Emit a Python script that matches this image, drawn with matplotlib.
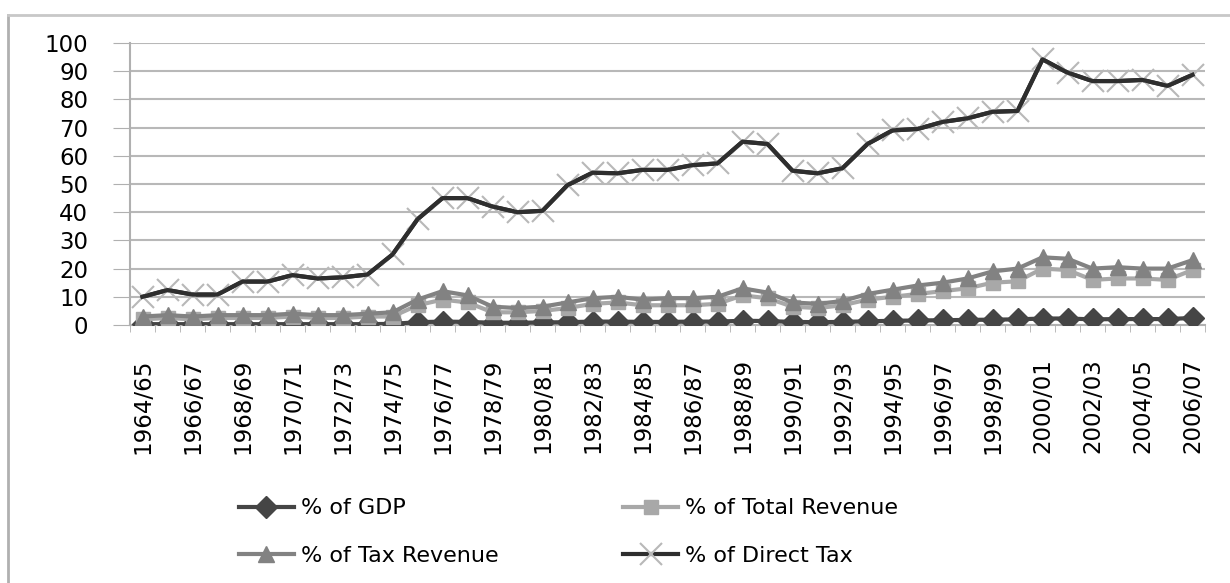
import matplotlib.pyplot as plt
import numpy as np

# Dados
anos = ['%d/%02d' % (a, (a + 1) % 100) for a in range(1964, 2007)]

pct_gdp = [0.3, 0.3, 0.3, 0.3, 0.3, 0.3, 0.3, 0.3, 0.3, 0.3,
           0.4, 1.0, 1.2, 1.1, 0.8, 0.8, 0.9, 1.0, 1.2, 1.2,
           1.1, 1.1, 1.2, 1.2, 1.5, 1.4, 1.1, 1.0, 1.1, 1.3,
           1.5, 1.6, 1.7, 1.8, 1.9, 2.0, 2.3, 2.3, 2.0, 2.1,
           2.1, 2.1, 2.5]

pct_total_rev = [2.0, 2.5, 2.0, 2.5, 2.5, 2.5, 3.0, 2.5, 2.5, 3.0,
                 3.0, 7.0, 9.0, 8.0, 4.5, 4.5, 5.0, 6.0, 7.5, 8.0,
                 7.0, 7.0, 7.0, 7.5, 10.5, 9.5, 6.5, 6.0, 7.0, 9.0,
                 10.0, 11.0, 12.0, 13.0, 15.0, 15.5, 20.0, 19.5, 16.0, 16.5,
                 16.5, 16.0, 19.5]

pct_tax_rev = [3.0, 3.5, 3.0, 3.5, 3.5, 3.5, 4.0, 3.5, 3.5, 4.0,
               4.5, 9.0, 12.0, 10.5, 6.5, 6.0, 6.5, 8.0, 9.5, 10.0,
               9.0, 9.5, 9.5, 10.0, 13.0, 11.5, 8.0, 7.5, 8.5, 11.0,
               12.5, 14.0, 15.0, 16.5, 19.0, 20.0, 24.0, 23.5, 20.0, 20.5,
               20.0, 20.0, 23.0]

pct_direct_tax = [10.0, 12.4, 10.8, 10.8, 15.4, 15.4, 17.7, 16.5, 16.9, 17.9,
                  25.0, 37.5, 45.0, 45.0, 42.0, 40.0, 40.5, 49.6, 54.0, 53.8,
                  55.0, 55.0, 56.7, 57.3, 65.0, 64.2, 54.7, 53.8, 55.6, 64.2,
                  69.0, 69.5, 72.0, 73.3, 75.6, 75.9, 94.2, 89.5, 86.5, 86.5,
                  86.9, 84.8, 88.7]

x = np.arange(len(anos))

fig = plt.figure(figsize=(12.3, 5.83), dpi=100)
ax = fig.add_axes([130 / 1230, 1 - 325 / 583, 1075 / 1230, 282 / 583])

l1, = ax.plot(x, pct_gdp, color='#454545', lw=3, marker='D', ms=11, label='% of GDP', zorder=3)
l2, = ax.plot(x, pct_total_rev, color='#a8a8a8', lw=3, marker='s', ms=10, label='% of Total Revenue', zorder=4)
l3, = ax.plot(x, pct_tax_rev, color='#828282', lw=3, marker='^', ms=12, label='% of Tax Revenue', zorder=5)
l4, = ax.plot(x, pct_direct_tax, color='#2e2e2e', lw=3, marker='x', ms=16, mew=1.5,
              mec='#b8b8b8', label='% of Direct Tax', zorder=6)
ax.plot(x, pct_direct_tax, color='#2e2e2e', lw=3, zorder=7)

ax.set_xlim(-0.5, len(anos) - 0.5)
ax.set_ylim(0, 100)
ax.set_yticks(range(0, 101, 10))
ax.tick_params(axis='y', labelsize=16.5, length=12, color='#b0b0b0', pad=18)
ax.set_xticks(x[::2])
ax.set_xticklabels(anos[::2], rotation=90, fontsize=16.5)
ax.set_xticks(np.arange(-0.5, len(anos), 1), minor=True)
ax.tick_params(axis='x', which='major', length=0, pad=24)
ax.tick_params(axis='x', which='minor', length=5, color='#b0b0b0')
ax.yaxis.grid(True, color='#b8b8b8', lw=1.5)
ax.set_axisbelow(True)
for s in ['top', 'right']:
    ax.spines[s].set_visible(False)
ax.spines['left'].set_color('#b0b0b0')
ax.spines['bottom'].set_color('#b0b0b0')
ax.spines['left'].set_linewidth(1.5)
ax.spines['bottom'].set_linewidth(1.5)

# ordem por linha como no Excel
fig.legend([l1, l3, l2, l4], [l1.get_label(), l3.get_label(), l2.get_label(), l4.get_label()],
           loc='center', bbox_to_anchor=(0.462, 0.087), ncol=2, frameon=False,
           fontsize=16, handlelength=2.5, columnspacing=5.6, labelspacing=1.25,
           handletextpad=0.3, numpoints=1)

# moldura do gráfico
fig.add_artist(plt.Line2D([8 / 1230, 8 / 1230], [0, 1 - 15 / 583], color='#b0b0b0', lw=2,
                          transform=fig.transFigure))
fig.add_artist(plt.Line2D([8 / 1230, 1], [1 - 15 / 583, 1 - 15 / 583], color='#c8c8c8', lw=2,
                          transform=fig.transFigure))

fig.savefig('out.png', dpi=100)
